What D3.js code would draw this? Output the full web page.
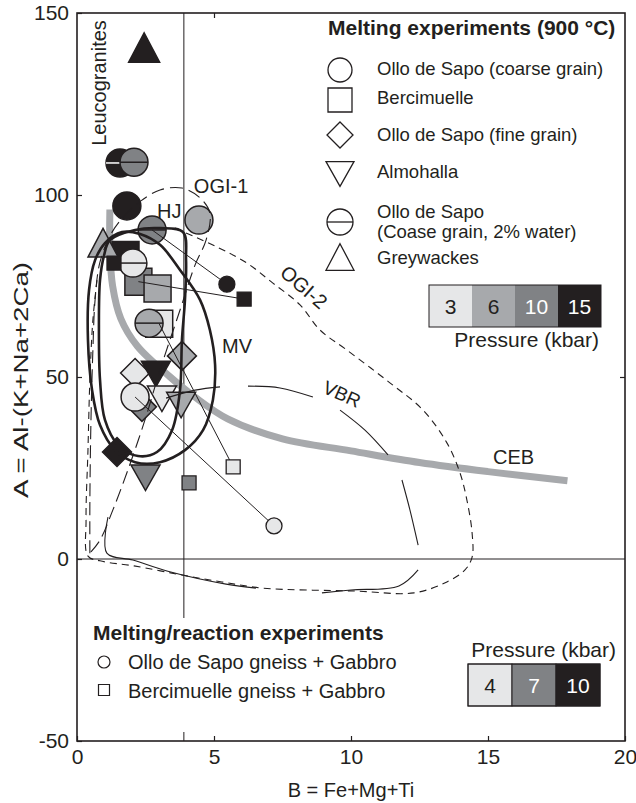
<!DOCTYPE html>
<html>
<head>
<meta charset="utf-8">
<script src="https://cdn.jsdelivr.net/npm/d3@7"></script>
<style>
  body { margin: 0; background: #fff; }
  svg { display: block; font-family: "Liberation Sans", Arial, sans-serif; }
</style>
</head>
<body>
<svg id="chart" width="636" height="803"></svg>
<script>
// ---------- axes ----------
const xTicks = [0, 5, 10, 15, 20];
const yTicks = [-50, 0, 50, 100, 150];
const xTitle = "B = Fe+Mg+Ti";
const yTitle = "A = Al-(K+Na+2Ca)";

// ---------- pressure colours ----------
const meltPressures = [3, 6, 10, 15];
const meltColors = ["#e6e7e8", "#a7a9ac", "#808285", "#231f20"];
const reactPressures = [4, 7, 10];
const reactColors = ["#e6e7e8", "#808285", "#231f20"];

// ---------- melting experiments (900 °C): [B, A, kbar] ----------
const bercimuelle = [[1.77, 83.5, 15], [2.24, 76.2, 10], [2.94, 74.3, 6], [3.0, 64.6, 3]];
const olloFine = [[2.37, 41.8, 10], [3.83, 55.8, 6], [2.12, 51.1, 3], [1.46, 29.4, 15]];
const almohalla = [[2.88, 50.8, 15], [3.1, 44.0, 3], [3.8, 42.3, 6], [2.5, 22.3, 10]];
const olloCoarse = [[1.82, 97.0, 15], [4.45, 93.1, 6], [2.12, 44.5, 3]];
const olloWater = [[1.57, 108.8, 15], [2.08, 109.0, 10], [2.74, 90.4, 10], [2.04, 81.3, 3], [2.63, 64.8, 6]];
const greywackes = [[0.95, 86.9, 6]];
const leucogranites = [[2.45, 140.5]];

// ---------- melting/reaction experiments: [B, A, kbar, startB, startA] ----------
const olloGabbro = [[5.47, 75.5, 10, 2.74, 90.4], [7.19, 9.1, 4, 2.12, 44.5]];
const bercGabbro = [[6.1, 71.4, 10, 2.24, 76.2], [5.7, 25.3, 4, 3.0, 64.6], [4.09, 20.9, 7], [1.35, 81.3, 10]];

// ---------- compositional fields ----------
const ceb = [[1.2, 96], [1.2, 85], [1.3, 75], [1.6, 66], [2.2, 58.5], [3.4, 50], [4.3, 44.5], [5.5, 38.5], [7.5, 33], [10, 29.7], [12.5, 26.5], [15, 24], [17.9, 21.5]];
const mv = [[1.64, 89.8], [2.3, 89.3], [3.03, 86.3], [3.76, 79.4], [4.49, 71.2], [4.85, 62.9], [5.04, 53.3], [4.96, 43.7], [4.6, 35.4], [3.94, 29.9], [3.03, 26.6], [2.12, 26.6], [1.39, 29.9], [0.84, 36.8], [0.55, 46.4], [0.4, 60.2], [0.44, 73.9], [0.66, 82.1], [1.02, 86.8]];
const hj = [[1.2, 87.6], [2.12, 90.4], [3.03, 90.9], [3.87, 89.8], [3.98, 82.1], [3.94, 71.2], [3.83, 60.2], [3.76, 46.4], [3.47, 35.4], [2.92, 29.4], [2.23, 28.3], [1.5, 31.3], [1.02, 38.2], [0.84, 49.2], [0.8, 62.9], [0.84, 76.6], [0.99, 83.5]];
const ogi1 = [[0.47, 1.6], [0.47, 16.2], [0.51, 38.2], [0.58, 57.4], [0.66, 71.2], [0.84, 81.6], [1.28, 89.8], [1.93, 95.9], [2.37, 98.6], [3.03, 101.4], [3.83, 101.9], [4.49, 99.2], [4.85, 95.1], [4.71, 87.6], [4.31, 80.8], [3.76, 68.4], [3.03, 51.9], [2.48, 38.2], [1.86, 24.5], [1.31, 13.5], [0.84, 5.2], [0.47, 1.6]];
const ogi2 = [[3.58, 90.9], [5.11, 85.7], [6.2, 81.3], [7.15, 75.8], [8.14, 69.8], [8.87, 62.9], [9.85, 57.4], [11.42, 48.4], [12.63, 40.9], [13.5, 31.9], [13.98, 23.6], [14.23, 16.2], [14.42, 7.1], [14.42, 0.5], [14.16, -3.0], [13.5, -6.3], [12.3, -9.3], [10.15, -8.8], [6.79, -8.0], [5.29, -6.3], [3.83, -4.4], [2.08, -1.9], [0.84, -0.5], [0.4, 0.8], [0.33, 10.7], [0.4, 29.9], [0.47, 49.2], [0.58, 65.7], [0.73, 76.6]];
const vbr = [
  [[3.25, 44.2], [4.31, 46.4], [5.22, 47.3]],
  [[6.24, 47.5], [7.41, 47.0], [8.61, 44.5]],
  [[9.6, 40.9], [10.51, 35.4], [11.35, 28.6]],
  [[11.86, 21.7], [12.15, 13.5], [12.45, 3.8]],
  [[12.45, -3.0], [11.75, -7.4], [10.0, -8.5], [8.94, -9.3]],
  [[6.53, -8.0], [5.44, -6.9], [3.28, -3.3], [2.04, -0.3], [1.09, 1.6], [1.13, 11.5]]
];
const refB = 3.9;

// ---------- set-up ----------
const ink = "#231f20";
const svg = d3.select("#chart");
const x = d3.scaleLinear().domain([0, 20]).range([77, 625]);
const y = d3.scaleLinear().domain([-50, 150]).range([741, 13]);
const meltFill = d3.scaleOrdinal().domain(meltPressures).range(meltColors);
const reactFill = d3.scaleOrdinal().domain(reactPressures).range(reactColors);
const line = d3.line().x(d => x(d[0])).y(d => y(d[1]));
const smooth = d3.line().x(d => x(d[0])).y(d => y(d[1])).curve(d3.curveCatmullRom.alpha(0.5));
const smoothClosed = d3.line().x(d => x(d[0])).y(d => y(d[1])).curve(d3.curveCatmullRomClosed.alpha(0.5));

// marker shapes centred on the origin
const shapes = {
  square: s => `M${-s},${-s}H${s}V${s}H${-s}Z`,
  diamond: s => `M0,${-s}L${s},0L0,${s}L${-s},0Z`,
  triDown: s => `M${-s},${-s * 0.88}L${s},${-s * 0.88}L0,${s * 0.88}Z`,
  triUp: s => `M0,${-s * 0.95}L${s},${s * 0.95}L${-s},${s * 0.95}Z`
};

// reference lines
const ref = svg.append("g").attr("stroke", ink).attr("fill", "none");
ref.append("line").attr("x1", x(refB)).attr("x2", x(refB)).attr("y1", y(150)).attr("y2", y(-50)).attr("stroke-width", 1);
ref.append("line").attr("x1", x(0)).attr("x2", x(20)).attr("y1", y(0)).attr("y2", y(0)).attr("stroke-width", 1);

// CEB trend
svg.append("path").attr("d", smooth(ceb)).attr("fill", "none")
  .attr("stroke", "#a7a9ac").attr("stroke-width", 7);

// ---------- melting experiment markers ----------
const gMarks = svg.append("g").attr("stroke", ink).attr("stroke-width", 1.5);
function drawShape(data, shape, s) {
  gMarks.selectAll(null).data(data).enter().append("path")
    .attr("transform", d => `translate(${x(d[0])},${y(d[1])})`)
    .attr("d", shapes[shape](s))
    .attr("fill", d => meltFill(d[2]));
}
drawShape(bercimuelle, "square", 13.5);
drawShape(olloFine, "diamond", 14.5);
drawShape(almohalla, "triDown", 14.5);
gMarks.selectAll(null).data(olloCoarse).enter().append("circle")
  .attr("cx", d => x(d[0])).attr("cy", d => y(d[1])).attr("r", 14)
  .attr("fill", d => meltFill(d[2]));
const wg = gMarks.selectAll(null).data(olloWater).enter().append("g")
  .attr("transform", d => `translate(${x(d[0])},${y(d[1])})`);
wg.append("circle").attr("r", 14).attr("fill", d => meltFill(d[2]));
wg.append("line").attr("x1", -14).attr("x2", 14)
  .attr("stroke", d => d[2] === 15 ? "#fff" : ink);
drawShape(greywackes, "triUp", 15);
gMarks.selectAll(null).data(leucogranites).enter().append("path")
  .attr("transform", d => `translate(${x(d[0])},${y(d[1])})`)
  .attr("d", shapes.triUp(15.5)).attr("fill", ink);

// ---------- field outlines ----------
const gf = svg.append("g").attr("fill", "none").attr("stroke", ink);
gf.append("path").attr("d", smoothClosed(mv)).attr("stroke-width", 2.6);
gf.append("path").attr("d", smoothClosed(hj)).attr("stroke-width", 2.6);
gf.append("path").attr("d", smooth(ogi1)).attr("stroke-width", 1.1).attr("stroke-dasharray", "13,6");
gf.append("path").attr("d", smooth(ogi2)).attr("stroke-width", 1.1).attr("stroke-dasharray", "7,5");
gf.selectAll(null).data(vbr).enter().append("path")
  .attr("d", d => smooth(d)).attr("stroke-width", 1.1);

// ---------- melting/reaction experiments ----------
const gr = svg.append("g").attr("stroke", ink);
const tie = olloGabbro.concat(bercGabbro).filter(d => d.length > 3);
gr.selectAll(null).data(tie).enter().append("path")
  .attr("d", d => line([[d[3], d[4]], [d[0], d[1]]])).attr("stroke-width", 1);
gr.selectAll(null).data(olloGabbro).enter().append("circle")
  .attr("cx", d => x(d[0])).attr("cy", d => y(d[1])).attr("r", 8)
  .attr("fill", d => reactFill(d[2])).attr("stroke-width", 1.3);
gr.selectAll(null).data(bercGabbro).enter().append("path")
  .attr("transform", d => `translate(${x(d[0])},${y(d[1])})`)
  .attr("d", shapes.square(7)).attr("fill", d => reactFill(d[2])).attr("stroke-width", 1.3);

// ---------- field labels ----------
const gl = svg.append("g").attr("fill", ink).attr("font-size", 20);
gl.append("text").attr("x", x(3.9) + 10).attr("y", 193).text("OGI-1");
gl.append("text").attr("x", 157).attr("y", 218).text("HJ");
gl.append("text").attr("x", 222).attr("y", 353).text("MV");
gl.append("text").attr("x", 493).attr("y", 464).text("CEB");
gl.append("text").attr("transform", "translate(304,287) rotate(41)").attr("text-anchor", "middle").attr("dy", "0.35em").text("OGI-2");
gl.append("text").attr("transform", "translate(342,394) rotate(24)").attr("text-anchor", "middle").attr("dy", "0.35em").attr("font-size", 19).text("VBR");
gl.append("text").attr("transform", "translate(106,83) rotate(-90)").attr("text-anchor", "middle").text("Leucogranites");

// ---------- frame and axes ----------
svg.append("rect").attr("x", x(0)).attr("y", y(150)).attr("width", x(20) - x(0)).attr("height", y(-50) - y(150))
  .attr("fill", "none").attr("stroke", ink).attr("stroke-width", 1.6);

const xAxis = svg.append("g").attr("transform", `translate(0,${y(-50)})`)
  .call(d3.axisBottom(x).tickValues(xTicks).tickSize(-5).tickPadding(8).tickFormat(String));
const yAxis = svg.append("g").attr("transform", `translate(${x(0)},0)`)
  .call(d3.axisLeft(y).tickValues(yTicks).tickSize(-5).tickPadding(8).tickFormat(String));
const topAxis = svg.append("g").attr("transform", `translate(0,${y(150)})`)
  .call(d3.axisTop(x).tickValues([5]).tickSize(-5).tickFormat(""));
const rightAxis = svg.append("g").attr("transform", `translate(${x(20)},0)`)
  .call(d3.axisRight(y).tickValues([50]).tickSize(-5).tickFormat(""));
[xAxis, yAxis, topAxis, rightAxis].forEach(a => {
  a.select(".domain").remove();
  a.selectAll("line").attr("stroke", ink).attr("stroke-width", 1.2);
  a.selectAll("text").attr("fill", ink).attr("font-size", 21).attr("font-family", "Liberation Sans, Arial, sans-serif");
});
svg.append("text").attr("x", 351).attr("y", 797).attr("text-anchor", "middle")
  .attr("font-size", 20).attr("fill", ink).text(xTitle);
svg.append("text").attr("transform", "translate(28,380) rotate(-90)").attr("text-anchor", "middle")
  .attr("font-size", 20).attr("textLength", 236).attr("lengthAdjust", "spacingAndGlyphs")
  .attr("fill", ink).text(yTitle);

// ---------- legend: melting experiments ----------
const lg = svg.append("g").attr("fill", ink);
lg.append("text").attr("x", 328).attr("y", 35).attr("font-size", 21).attr("font-weight", "bold")
  .text("Melting experiments (900 \u00b0C)");
const lgItems = [
  { shape: "circle", cy: 70, lines: ["Ollo de Sapo (coarse grain)"], ty: [75] },
  { shape: "square", cy: 100, lines: ["Bercimuelle"], ty: [104] },
  { shape: "diamond", cy: 135, lines: ["Ollo de Sapo (fine grain)"], ty: [141] },
  { shape: "triDown", cy: 174, lines: ["Almohalla"], ty: [178] },
  { shape: "water", cy: 222, lines: ["Ollo de Sapo", "(Coase grain, 2% water)"], ty: [218, 238] },
  { shape: "triUp", cy: 257, lines: ["Greywackes"], ty: [264] }
];
lgItems.forEach(it => {
  const g = lg.append("g").attr("transform", `translate(340,${it.cy})`)
    .attr("fill", "#fff").attr("stroke", ink).attr("stroke-width", 1.3);
  if (it.shape === "circle") g.append("circle").attr("r", 12);
  else if (it.shape === "water") { g.append("circle").attr("r", 13); g.append("line").attr("x1", -13).attr("x2", 13); }
  else if (it.shape === "square") g.append("path").attr("d", shapes.square(12));
  else if (it.shape === "diamond") g.append("path").attr("d", shapes.diamond(13));
  else g.append("path").attr("d", shapes[it.shape](14));
  it.lines.forEach((t, i) => lg.append("text").attr("x", 377).attr("y", it.ty[i]).attr("font-size", 18.5).text(t));
});

// pressure swatches (kbar)
function swatch(values, colors, x0, y0, cw, ch, titleX, titleY, divided) {
  const g = svg.append("g");
  values.forEach((v, i) => {
    g.append("rect").attr("x", x0 + i * cw).attr("y", y0).attr("width", cw).attr("height", ch)
      .attr("fill", colors[i]).attr("stroke", divided ? ink : "none").attr("stroke-width", 1);
    g.append("text").attr("x", x0 + i * cw + cw / 2).attr("y", y0 + ch / 2).attr("dy", "0.36em")
      .attr("text-anchor", "middle").attr("font-size", 21)
      .attr("fill", i >= values.length - 2 ? "#fff" : ink).text(v);
  });
  g.append("rect").attr("x", x0).attr("y", y0).attr("width", cw * values.length).attr("height", ch)
    .attr("fill", "none").attr("stroke", ink).attr("stroke-width", 1);
  g.append("text").attr("x", titleX).attr("y", titleY).attr("text-anchor", "end")
    .attr("font-size", 21).attr("fill", ink).text("Pressure (kbar)");
}
swatch(meltPressures, meltColors, 429, 285, 43, 42, 599, 347, false);

// ---------- legend: melting/reaction experiments ----------
const lb = svg.append("g");
lb.append("rect").attr("x", 86).attr("y", 618).attr("width", 310).attr("height", 114).attr("fill", "#fff");
lb.append("text").attr("x", 93).attr("y", 640).attr("font-size", 21).attr("font-weight", "bold")
  .attr("fill", ink).text("Melting/reaction experiments");
lb.append("circle").attr("cx", 104).attr("cy", 662).attr("r", 6).attr("fill", "#fff").attr("stroke", ink).attr("stroke-width", 1.2);
lb.append("text").attr("x", 128).attr("y", 669).attr("font-size", 20).attr("fill", ink).text("Ollo de Sapo gneiss + Gabbro");
lb.append("path").attr("transform", "translate(104,690)").attr("d", shapes.square(5.5)).attr("fill", "#fff").attr("stroke", ink).attr("stroke-width", 1.2);
lb.append("text").attr("x", 128).attr("y", 698).attr("font-size", 20).attr("fill", ink).text("Bercimuelle gneiss + Gabbro");
swatch(reactPressures, reactColors, 468, 664, 44, 42, 616, 657, true);
</script>
</body>
</html>
